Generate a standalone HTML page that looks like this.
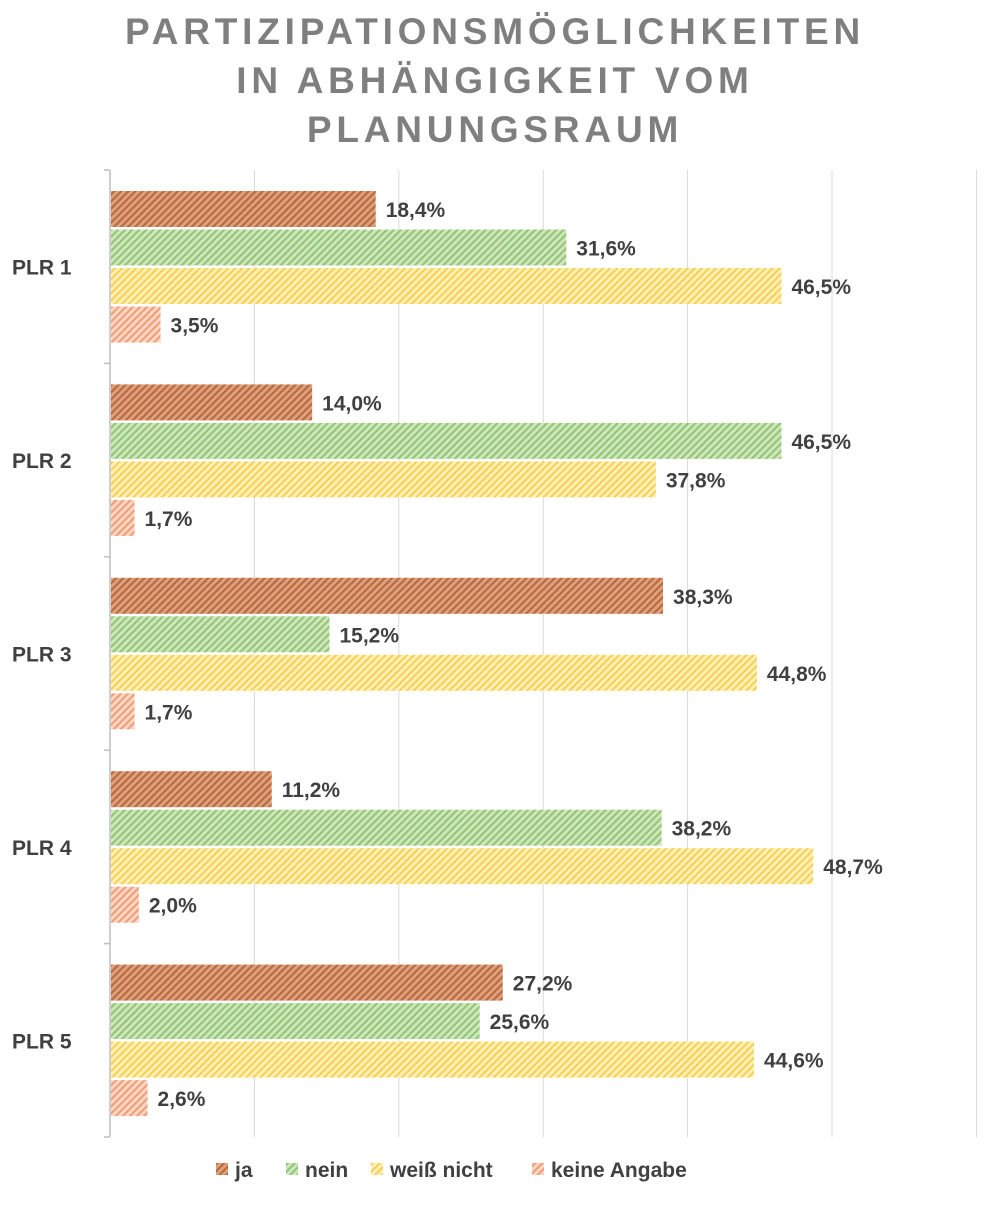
<!DOCTYPE html>
<html><head><meta charset="utf-8"><style>
body{margin:0;background:#fff;}
svg text{font-family:"Liberation Sans",sans-serif;}
</style></head><body>
<svg width="991" height="1200" xmlns="http://www.w3.org/2000/svg">
<defs>
<pattern id="p0" width="5" height="5" patternUnits="userSpaceOnUse" patternTransform="rotate(45)"><rect width="5" height="5" fill="#dca07c"/><rect width="2" height="5" fill="#b9673c"/></pattern>
<pattern id="p1" width="5" height="5" patternUnits="userSpaceOnUse" patternTransform="rotate(45)"><rect width="5" height="5" fill="#cde6bb"/><rect width="2" height="5" fill="#93c474"/></pattern>
<pattern id="p2" width="5" height="5" patternUnits="userSpaceOnUse" patternTransform="rotate(45)"><rect width="5" height="5" fill="#fff0b5"/><rect width="2" height="5" fill="#f6cf55"/></pattern>
<pattern id="p3" width="5" height="5" patternUnits="userSpaceOnUse" patternTransform="rotate(45)"><rect width="5" height="5" fill="#fbd6c2"/><rect width="2" height="5" fill="#ee9d76"/></pattern>
</defs>
<text x="495" y="44" text-anchor="middle" font-size="37" font-weight="bold" fill="#7f7f7f" letter-spacing="4.8">PARTIZIPATIONSMÖGLICHKEITEN</text>
<text x="495" y="93" text-anchor="middle" font-size="37" font-weight="bold" fill="#7f7f7f" letter-spacing="4.8">IN ABHÄNGIGKEIT VOM</text>
<text x="495" y="142" text-anchor="middle" font-size="37" font-weight="bold" fill="#7f7f7f" letter-spacing="4.8">PLANUNGSRAUM</text>
<g id="grid"></g><g id="bars"></g>
<g font-size="21" font-weight="bold" fill="#404040">
<rect x="216" y="1163" width="12" height="12" fill="url(#p0)"/><text x="235" y="1177">ja</text>
<rect x="286" y="1163" width="12" height="12" fill="url(#p1)"/><text x="305" y="1177">nein</text>
<rect x="371" y="1163" width="12" height="12" fill="url(#p2)"/><text x="390" y="1177">weiß nicht</text>
<rect x="532" y="1163" width="12" height="12" fill="url(#p3)"/><text x="551" y="1177">keine Angabe</text>
</g>
</svg>
<script>
const categories=["PLR 1","PLR 2","PLR 3","PLR 4","PLR 5"];
const seriesNames=["ja","nein","weiß nicht","keine Angabe"];
const ja=[18.4,14.0,38.3,11.2,27.2];
const nein=[31.6,46.5,15.2,38.2,25.6];
const weissNicht=[46.5,37.8,44.8,48.7,44.6];
const keineAngabe=[3.5,1.7,1.7,2.0,2.6];
const gridTicks=[0,10,20,30,40,50,60];
const series=[ja,nein,weissNicht,keineAngabe];
const NS="http://www.w3.org/2000/svg";
const x0=110,pxPer=14.44,plotTop=170,plotBottom=1137;
const band=(plotBottom-plotTop)/categories.length;
const xs=v=>x0+v*pxPer;
const grid=document.getElementById('grid'),bars=document.getElementById('bars');
function mk(tag,attrs,parent){const e=document.createElementNS(NS,tag);for(const k in attrs)e.setAttribute(k,attrs[k]);parent.appendChild(e);return e;}
gridTicks.forEach(t=>{if(t===0)return;
const l=mk('line',{x1:xs(t),x2:xs(t),y1:plotTop,y2:plotBottom,stroke:'#d9d9d9','stroke-width':1},grid);

});
const ax=mk('line',{x1:x0,x2:x0,y1:plotTop,y2:plotBottom,stroke:'#bfbfbf','stroke-width':1.5},grid);


for(let i=0;i<=categories.length;i++){const tk=mk('line',{x1:x0-6,x2:x0,y1:plotTop+band*i,y2:plotTop+band*i,stroke:'#bfbfbf','stroke-width':1.5},grid);

}
categories.forEach((c,i)=>{
const bt=plotTop+band*i;
const lab=mk('text',{x:12,y:bt+band/2+8,'font-size':21,'font-weight':'bold',fill:'#404040'},grid);
lab.textContent=c;


series.forEach((s,j)=>{
const y=bt+21+j*38.5,v=s[i];
const r=mk('rect',{x:x0+1,y:y,width:xs(v)-x0-1,height:36,fill:'url(#p'+j+')'},bars);


const t=mk('text',{x:xs(v)+10,y:y+26,'font-size':21,'font-weight':'bold',fill:'#404040'},bars);
t.textContent=v.toFixed(1).replace('.',',')+'%';


});});
</script>
</body></html>
